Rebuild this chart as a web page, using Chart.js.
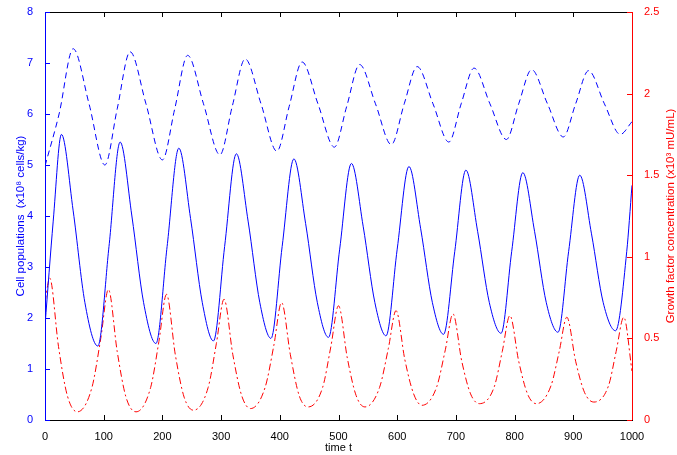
<!DOCTYPE html>
<html><head><meta charset="utf-8">
<script src="https://cdn.jsdelivr.net/npm/chart.js@4"></script>
<style>html,body{margin:0;padding:0;background:#fff}#w{width:677px;height:455px}</style>
</head><body><div id="w"><canvas id="c"></canvas></div>
<script>
const solidT=[0,14,28,48,68,90,109,128,148,168,189,208,228,248,268,287,306,326,346,366,385,404,424,444,464,483,502,522,542,562,581,600,620,640,660,679,698,717,737,757,777,795,814,834,854,874,892,911,931,951,972,991,1000];
const solidY=[1.85,3.9,5.6,4.1,2.3,1.45,3.4,5.45,4.0,2.3,1.5,3.4,5.33,3.95,2.3,1.55,3.4,5.22,3.9,2.3,1.6,3.4,5.12,3.85,2.3,1.62,3.35,5.03,3.8,2.3,1.65,3.35,4.97,3.75,2.3,1.68,3.3,4.9,3.7,2.3,1.7,3.3,4.85,3.7,2.3,1.72,3.3,4.8,3.65,2.3,1.75,3.3,4.6];
const dashT=[0,24,48,75,102,123,145,172,200,221,243,270,298,319,341,368,395,416,438,465,493,514,536,563,590,612,634,661,688,709,731,758,786,807,829,856,883,904,926,953,980,1000];
const dashY=[4.98,6.0,7.28,6.2,5.0,6.1,7.22,6.2,5.1,6.1,7.15,6.2,5.2,6.15,7.08,6.2,5.27,6.15,7.02,6.2,5.35,6.15,6.97,6.2,5.4,6.2,6.93,6.2,5.45,6.2,6.9,6.2,5.5,6.2,6.87,6.2,5.55,6.2,6.85,6.2,5.6,5.85];
const redT=[0,8,23,38,55,80,95,108,123,138,155,180,194,207,222,237,253,278,292,305,320,335,350,375,390,403,418,433,448,473,487,500,515,530,545,570,585,598,613,628,642,667,682,695,710,725,740,765,779,792,807,822,837,862,876,889,904,919,935,960,973,986,1000];
const redY=[0.72,0.87,0.45,0.15,0.05,0.2,0.5,0.8,0.42,0.14,0.05,0.2,0.48,0.77,0.4,0.14,0.06,0.2,0.47,0.74,0.4,0.15,0.07,0.2,0.46,0.72,0.4,0.15,0.08,0.2,0.45,0.7,0.38,0.15,0.08,0.2,0.44,0.67,0.37,0.16,0.09,0.2,0.43,0.65,0.36,0.16,0.1,0.2,0.42,0.64,0.36,0.16,0.1,0.21,0.42,0.63,0.36,0.17,0.11,0.21,0.42,0.63,0.3];
const xTicks=[0,100,200,300,400,500,600,700,800,900,1000];
const leftTitle='Cell populations  (x10⁸ cells/kg)';
const rightTitle='Growth factor concentration (x10³ mU/mL)';
const pts=(t,y)=>t.map((v,i)=>({x:v,y:y[i]}));
const F='"Liberation Sans", Arial, sans-serif';
const ticksIn={id:'ticksIn',afterDraw(ch){const c=ch.ctx,a=ch.chartArea;c.save();c.lineWidth=1;
 c.strokeStyle='#000';c.strokeRect(a.left+.5,a.top+.5,a.right-a.left,a.bottom-a.top);
 const x=ch.scales.x;x.ticks.forEach(t=>{const p=Math.round(x.getPixelForValue(t.value))+.5;c.beginPath();c.moveTo(p,a.bottom);c.lineTo(p,a.bottom-5);c.moveTo(p,a.top);c.lineTo(p,a.top+5);c.stroke();});
 const l=ch.scales.y;c.strokeStyle='#0000ff';c.beginPath();c.moveTo(a.left+.5,a.top);c.lineTo(a.left+.5,a.bottom);c.stroke();
 l.ticks.forEach(t=>{const p=Math.round(l.getPixelForValue(t.value))+.5;c.beginPath();c.moveTo(a.left,p);c.lineTo(a.left+5,p);c.stroke();});
 const r=ch.scales.y2;c.strokeStyle='#ff0000';c.beginPath();c.moveTo(a.right+.5,a.top);c.lineTo(a.right+.5,a.bottom);c.stroke();
 r.ticks.forEach(t=>{const p=Math.round(r.getPixelForValue(t.value))+.5;c.beginPath();c.moveTo(a.right,p);c.lineTo(a.right-5,p);c.stroke();});
 c.font='11.5px '+F;c.textAlign='center';c.textBaseline='middle';
 c.save();c.translate(21,(a.top+a.bottom)/2);c.rotate(-Math.PI/2);c.fillStyle='#0000ff';c.fillText(leftTitle,0,0);c.restore();
 c.translate(r.right-6,(a.top+a.bottom)/2);c.rotate(-Math.PI/2);c.fillStyle='#ff0000';c.fillText(rightTitle,0,0);
 c.restore();}};
new Chart(document.getElementById('c'),{type:'line',
 data:{datasets:[
  {data:pts(dashT,dashY),borderColor:'#0000ff',borderWidth:1,borderDash:[6,4],yAxisID:'y'},
  {data:pts(solidT,solidY),borderColor:'#0000ff',borderWidth:1,yAxisID:'y'},
  {data:pts(redT,redY),borderColor:'#ff0000',borderWidth:1,borderDash:[7,3,2,3],yAxisID:'y2'}]},
 options:{responsive:true,maintainAspectRatio:false,animation:false,
  elements:{point:{radius:0},line:{cubicInterpolationMode:'monotone'}},
  layout:{padding:{top:12,left:0,right:0,bottom:0}},
  plugins:{legend:{display:false},tooltip:{enabled:false}},
  scales:{
   x:{type:'linear',min:0,max:1000,afterBuildTicks:s=>{s.ticks=xTicks.map(v=>({value:v}));},
    grid:{display:false},border:{display:false},ticks:{color:'#000',font:{family:F,size:11},padding:2,maxRotation:0,callback:v=>String(v)},
    title:{display:true,text:'time t',color:'#000',font:{family:F,size:11},padding:0},afterFit:s=>{s.height=35;}},
   y:{position:'left',min:0,max:8,ticks:{stepSize:1,color:'#0000ff',font:{family:F,size:11},padding:4},
    grid:{display:false},border:{display:false},title:{display:false},afterFit:s=>{s.width=45;}},
   y2:{position:'right',min:0,max:2.5,ticks:{stepSize:0.5,color:'#ff0000',font:{family:F,size:11},padding:4,callback:v=>v===0?'0':String(v)},
    grid:{display:false},border:{display:false},title:{display:false},afterFit:s=>{s.width=45;}}
  }},plugins:[ticksIn]});
</script></body></html>
